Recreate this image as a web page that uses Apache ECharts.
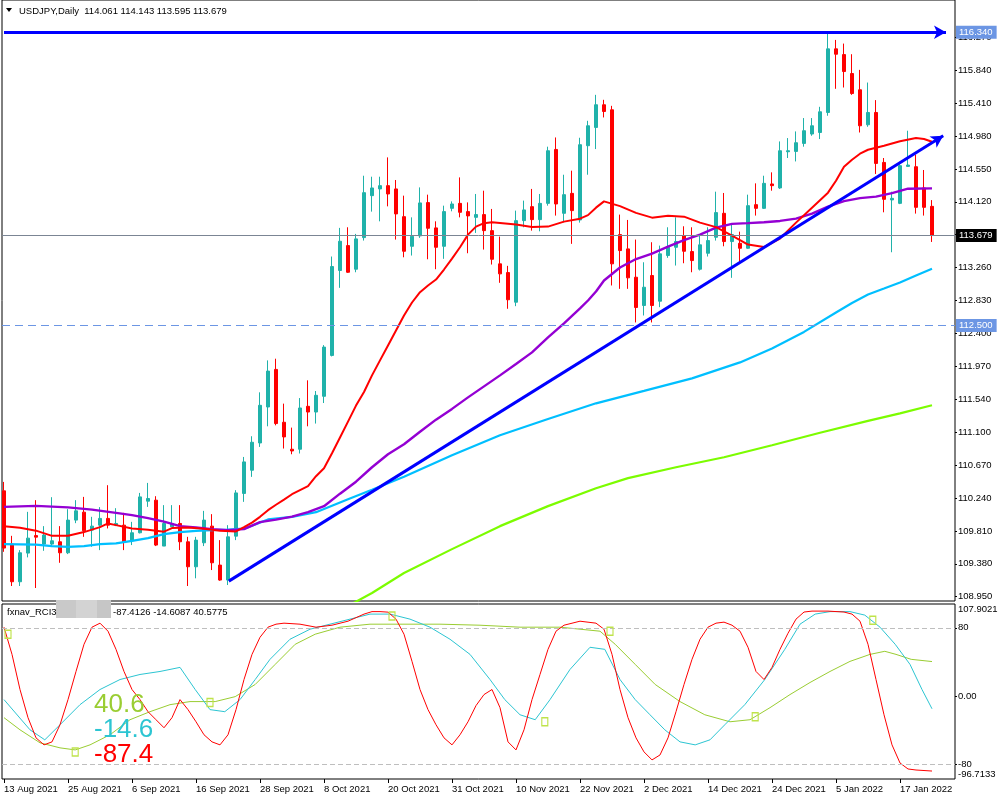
<!DOCTYPE html>
<html><head><meta charset="utf-8">
<script src="https://cdn.jsdelivr.net/npm/echarts@6/dist/echarts.min.js"></script>
<style>html,body{margin:0;padding:0;background:#fff}#c{width:1000px;height:800px}</style>
</head><body><div id="c"></div>
<script>
// ---------------- DATA ----------------
const symbolName = 'USDJPY,Daily';
const dateLabels = ['13 Aug 2021','25 Aug 2021','6 Sep 2021','16 Sep 2021','28 Sep 2021','8 Oct 2021','20 Oct 2021','31 Oct 2021','10 Nov 2021','22 Nov 2021','2 Dec 2021','14 Dec 2021','24 Dec 2021','5 Jan 2022','17 Jan 2022'];
const dateBars = [0,8,16,24,32,40,48,56,64,72,80,88,96,104,112];
const priceTicks = [108.950,109.380,109.810,110.240,110.670,111.100,111.540,111.970,112.400,112.830,113.260,113.690,114.120,114.550,114.980,115.410,115.840,116.270];
const rciTicks = [80, 0, -80];
const rciExtremes = [107.9021, -96.7133];
const rciLast = [-87.4126, -14.6087, 40.5775];

const opens = [110.336,109.639,109.146,109.521,109.750,109.639,109.639,109.669,109.525,109.953,110.057,109.822,109.887,109.975,109.887,109.887,109.682,109.787,110.201,110.214,109.613,109.865,109.909,109.669,109.342,109.656,109.874,109.364,109.168,109.743,110.302,110.606,110.963,111.434,111.926,111.234,110.881,110.881,111.443,111.368,111.574,112.109,113.221,113.547,113.238,113.652,114.201,114.289,114.332,114.289,113.926,113.538,113.674,114.110,113.779,113.538,114.035,114.100,113.992,113.917,113.953,113.743,113.308,113.194,112.806,113.874,114.057,113.887,114.100,114.806,113.970,114.231,113.883,114.855,115.094,115.391,115.325,113.691,113.504,113.133,112.763,113.155,112.819,113.417,113.525,113.678,113.469,113.238,113.447,113.656,113.970,113.600,113.577,113.512,114.083,114.035,114.354,114.302,114.776,114.780,114.885,115.008,115.028,115.290,116.123,116.048,115.800,115.587,115.129,115.290,114.636,114.145,114.100,114.584,114.580,114.302,114.061];
const highs = [110.453,109.747,109.560,110.061,110.214,109.874,110.253,109.874,110.096,110.214,110.257,109.996,110.123,110.410,110.109,110.048,109.930,110.309,110.440,110.266,110.149,110.149,110.149,109.734,109.734,110.074,110.031,109.691,109.887,110.345,110.780,111.051,111.626,112.044,112.066,111.478,111.164,111.551,111.783,111.643,112.244,113.404,113.779,113.787,113.700,114.462,114.449,114.449,114.702,114.406,114.201,113.917,114.309,114.214,113.865,114.070,114.126,114.440,114.113,114.223,114.266,114.027,113.665,113.282,114.005,114.136,114.289,114.223,114.842,114.963,114.475,114.528,114.959,115.181,115.521,115.456,115.377,113.953,113.883,113.626,113.329,113.591,113.547,113.787,113.917,113.800,113.787,113.678,113.787,114.253,114.236,113.839,113.730,114.214,114.362,114.462,114.506,114.911,114.955,115.042,115.217,115.217,115.364,116.340,116.240,116.192,116.053,115.848,115.682,115.452,114.694,114.253,114.610,115.051,114.737,114.537,114.143];
const lows = [109.538,109.090,109.090,109.465,109.064,109.551,109.600,109.394,109.508,109.913,109.734,109.604,109.560,109.844,109.874,109.560,109.626,109.779,110.126,109.613,109.613,109.865,109.560,109.090,109.191,109.613,109.299,109.159,109.103,109.691,110.192,110.519,110.911,111.181,111.194,110.890,110.815,110.825,111.181,111.217,111.486,112.096,112.994,113.190,113.198,113.613,113.992,113.865,114.061,113.626,113.394,113.417,113.648,113.368,113.238,113.374,113.996,113.917,113.447,113.713,113.495,113.299,113.060,112.720,112.754,113.787,113.743,113.734,114.070,113.940,113.852,113.570,113.848,114.475,114.811,115.225,113.025,112.981,112.981,112.541,112.632,112.541,112.741,113.387,113.286,113.316,113.198,113.221,113.404,113.613,113.538,113.125,113.329,113.505,113.940,114.027,114.266,114.289,114.694,114.649,114.842,114.985,114.942,115.247,115.600,115.617,115.521,115.028,115.103,114.485,113.983,113.460,114.090,114.580,113.966,113.940,113.595];
const closes = [109.587,109.146,109.525,109.717,109.730,109.757,109.682,109.525,109.953,110.074,109.813,109.874,109.975,109.887,109.909,109.669,109.787,110.257,110.236,109.626,109.909,109.909,109.669,109.342,109.691,109.953,109.394,109.168,109.734,110.309,110.715,110.972,111.456,111.904,111.217,111.042,110.858,111.421,111.368,111.587,112.218,113.273,113.604,113.198,113.635,114.240,114.302,114.332,114.223,113.962,113.473,113.669,114.106,113.774,113.525,113.992,114.092,113.983,113.936,113.953,113.743,113.368,113.177,112.838,113.874,114.014,113.887,114.100,114.789,114.092,114.214,114.005,114.868,115.116,115.391,115.303,113.308,113.482,113.125,112.737,113.002,112.763,113.439,113.525,113.600,113.473,113.351,113.557,113.613,113.979,113.600,113.691,113.512,114.070,114.035,114.362,114.332,114.789,114.789,114.894,115.051,115.116,115.299,116.123,116.053,115.826,115.538,115.116,115.290,114.623,114.153,114.166,114.593,114.602,114.048,114.048,113.679];

const maRed = [[0,109.874],[2,109.853],[4,109.815],[6,109.747],[8,109.747],[10,109.796],[12,109.861],[13,109.909],[14,109.887],[16,109.844],[18,109.826],[20,109.802],[21,109.848],[23,109.857],[25,109.840],[27,109.815],[29,109.805],[30,109.861],[31,109.920],[32,109.996],[33,110.083],[34,110.154],[35,110.221],[36,110.292],[37,110.345],[38,110.397],[39,110.528],[40,110.632],[41,110.828],[42,111.034],[43,111.243],[44,111.452],[45,111.630],[46,111.848],[47,112.044],[48,112.240],[49,112.436],[50,112.632],[51,112.802],[52,112.937],[53,113.024],[54,113.103],[55,113.234],[56,113.377],[57,113.525],[58,113.691],[59,113.796],[60,113.841],[61,113.852],[62,113.844],[64,113.822],[66,113.792],[68,113.796],[70,113.861],[72,113.900],[73,113.946],[74,114.044],[75,114.126],[77,114.064],[79,113.975],[81,113.913],[83,113.939],[85,113.926],[87,113.848],[89,113.789],[91,113.678],[93,113.560],[95,113.528],[97,113.639],[99,113.848],[101,114.044],[103,114.240],[104,114.397],[105,114.580],[106,114.672],[107,114.750],[108,114.802],[110,114.855],[112,114.913],[114,114.955],[115,114.942],[116,114.907]];
const maPurple = [[0,110.126],[4,110.139],[8,110.120],[11,110.090],[14,110.048],[16,110.018],[18,109.979],[20,109.933],[22,109.874],[24,109.857],[26,109.835],[28,109.822],[30,109.835],[32,109.926],[34,109.960],[36,109.998],[38,110.057],[40,110.135],[42,110.299],[44,110.456],[46,110.645],[48,110.815],[50,110.946],[52,111.109],[54,111.268],[56,111.409],[58,111.560],[60,111.704],[62,111.848],[64,111.998],[66,112.149],[68,112.345],[70,112.528],[72,112.724],[73,112.828],[74,112.946],[75,113.090],[77,113.260],[79,113.371],[81,113.443],[83,113.534],[85,113.619],[87,113.691],[89,113.783],[91,113.832],[93,113.841],[95,113.852],[97,113.870],[99,113.900],[101,113.966],[103,114.057],[105,114.129],[107,114.168],[109,114.188],[111,114.234],[113,114.292],[116,114.296]];
const maBlue = [[0,109.639],[4,109.632],[6,109.613],[8,109.603],[10,109.613],[12,109.639],[14,109.648],[16,109.681],[18,109.717],[20,109.770],[22,109.796],[24,109.811],[26,109.822],[28,109.830],[30,109.841],[31,109.881],[33,109.962],[36,109.996],[39,110.057],[41,110.142],[43,110.227],[46,110.351],[50,110.521],[56,110.802],[62,111.064],[68,111.277],[74,111.482],[80,111.645],[86,111.809],[92,112.018],[96,112.201],[100,112.417],[104,112.671],[106,112.796],[108,112.907],[110,112.985],[112,113.064],[114,113.155],[116,113.243]];
const maGreen = [[43,108.828],[46,108.998],[50,109.260],[56,109.573],[62,109.874],[68,110.136],[74,110.371],[78,110.502],[84,110.645],[90,110.776],[96,110.933],[102,111.096],[108,111.253],[112,111.351],[116,111.456]];

const highLevel = 116.340;   // horizontal arrow line
const bidLevel = 113.679;    // current price line
const dashLevel = 112.500;   // dashed level
const trendStart = [28.1, 109.154];
const trendEnd = [117.4, 114.985];
const highStart = 0, highEnd = 117.75;

const rciRed = [[0,80.8],[1,49.0],[2,7.9],[3,-25.0],[4,-48.6],[5,-56.8],[6,-53.3],[7,-33.3],[8,-3.9],[9,29.0],[10,60.8],[11,80.8],[12,85.5],[13,76.1],[14,54.9],[15,29.0],[16,7.9],[17,-3.9],[18,-18.0],[19,-27.4],[20,-36.8],[21,-25.0],[22,-3.9],[23,-15.6],[24,-29.8],[25,-45.0],[26,-53.3],[27,-56.8],[28,-45.0],[29,-15.6],[30,19.6],[31,49.0],[32,69.0],[33,80.8],[34,84.3],[35,85.5],[37,84.3],[39,80.8],[41,83.1],[43,87.8],[45,96.1],[46,99.0],[47,99.0],[48,98.4],[49,90.2],[50,72.6],[51,40.8],[52,7.9],[53,-15.6],[54,-33.3],[55,-48.6],[56,-56.8],[57,-45.0],[58,-29.8],[59,-10.9],[60,2.0],[61,7.9],[62,-13.3],[63,-53.3],[64,-62.7],[65,-39.2],[66,-3.9],[67,25.5],[68,54.9],[69,76.1],[70,83.1],[72,87.8],[74,85.5],[75,78.4],[76,49.0],[77,7.9],[78,-25.0],[79,-48.6],[80,-65.0],[81,-74.4],[82,-68.6],[83,-48.6],[84,-18.0],[85,13.8],[86,43.2],[87,66.7],[88,80.8],[89,85.5],[90,86.7],[91,83.1],[92,76.1],[93,57.3],[94,29.0],[95,19.6],[96,33.8],[97,54.9],[98,73.7],[99,90.2],[100,98.5],[101,99.6],[103,99.6],[105,98.5],[106,96.1],[107,87.8],[108,60.8],[109,19.6],[110,-21.6],[111,-56.8],[112,-78.0],[113,-85.0],[114,-86.2],[116,-87.4]];
const rciCyan = [[0,-3.9],[3.25,-39.2],[5.1,-50.9],[7,-33.3],[9.5,-9.8],[12,7.9],[14.5,19.6],[17,25.5],[19.5,29.0],[22,33.8],[23.9,7.9],[25.75,-15.6],[27.6,-18.0],[29.5,-3.9],[31.4,19.6],[33.25,43.2],[35.75,66.7],[38.25,78.4],[40.75,84.3],[43.25,90.2],[45.75,96.1],[48.25,96.1],[50.75,90.2],[53.25,80.8],[55.75,66.7],[58.25,49.0],[60.75,19.6],[62.6,-3.9],[64.5,-21.6],[66.4,-27.4],[68.25,-3.9],[70.75,31.4],[73.25,57.3],[75.1,54.9],[77,19.6],[78.9,-3.9],[80.75,-21.6],[82.6,-39.2],[84.5,-53.3],[86.4,-56.8],[88.25,-50.9],[90.1,-33.3],[92.6,-9.8],[95.1,19.6],[97.6,54.9],[99.5,84.3],[101.4,96.1],[103.25,99.0],[105.75,99.0],[107.6,94.9],[109.5,80.8],[111.4,60.8],[113.25,37.3],[114.75,7.9],[116,-14.6]];
const rciGreen = [[0,-25.0],[2,-39.2],[4.5,-54.4],[7,-60.3],[8.9,-62.7],[10.75,-56.8],[13.25,-45.0],[15.75,-27.4],[18.25,-18.0],[20.75,-9.8],[23.25,-6.2],[26.4,-6.2],[28.9,-0.4],[31.4,13.8],[33.9,37.3],[36.4,60.8],[38.9,72.6],[42,80.8],[45.75,84.3],[49.5,84.3],[54.5,84.3],[59.5,83.1],[64.5,80.8],[69.5,80.8],[74.5,76.1],[76.4,60.8],[78.9,37.3],[81.4,13.8],[84.5,-6.2],[87.6,-21.6],[90.75,-29.8],[93.25,-27.4],[95.75,-13.3],[98.25,2.0],[100.75,16.1],[103.25,29.0],[105.75,40.8],[108.25,49.0],[110.1,52.6],[111.5,49.0],[113.4,43.2],[116,40.6]];
const rciMarks = [[0.5,72.6],[8.9,-65.0],[25.75,-7.4],[48.5,93.8],[67.6,-29.8],[75.75,76.0],[93.9,-23.9],[108.6,89.0]];

// ---------------- CHART ----------------
const FONT = "'Liberation Sans', Arial, sans-serif";
const BULL = '#20B2AA', BEAR = '#FF0000';
const BOXBLUE = '#6C96E4';
const xMin = -0.25, xMax = 118.875;
const priceMin = 108.8938, priceMax = 116.7627;

const candleData = opens.map((o, i) => [i, o, closes[i], lows[i], highs[i]]);
const last = opens.length - 1;

const chart = echarts.init(document.getElementById('c'), null, {width: 1000, height: 800});

function boxLabel(text, bg) {
  return {show: true, position: 'end', formatter: text, color: '#fff', backgroundColor: bg,
          padding: [2, 4, 1, 3], distance: 1, fontSize: 9.5, fontFamily: FONT};
}

const option = {
  animation: false,
  backgroundColor: '#ffffff',
  textStyle: {fontFamily: FONT},
  grid: [
    {left: 2, right: 45, top: -1, height: 602, show: true, borderColor: '#000', borderWidth: 1, backgroundColor: 'transparent'},
    {left: 2, right: 45, top: 604, height: 175, show: true, borderColor: '#000', borderWidth: 1, backgroundColor: 'transparent'}
  ],
  xAxis: [
    {type: 'value', gridIndex: 0, min: xMin, max: xMax, show: false, splitLine: {show: false}, axisLine: {onZero: false}},
    {type: 'value', gridIndex: 1, min: xMin, max: xMax, splitLine: {show: false}, position: 'bottom',
     axisLine: {show: false, onZero: false},
     axisTick: {show: true, customValues: dateBars, length: 4, lineStyle: {color: '#000'}},
     axisLabel: {customValues: dateBars, align: 'left', margin: 5, fontSize: 9.5, color: '#000',
                 formatter: v => dateLabels[dateBars.indexOf(Math.round(v))] || ''}}
  ],
  yAxis: [
    {type: 'value', gridIndex: 0, position: 'right', min: priceMin, max: priceMax, splitLine: {show: false},
     axisLine: {show: false, onZero: false},
     axisTick: {show: true, customValues: priceTicks, length: 2, lineStyle: {color: '#000'}},
     axisLabel: {customValues: priceTicks, margin: 3, fontSize: 9.5, color: '#000', formatter: v => v.toFixed(3)}},
    {type: 'value', gridIndex: 1, position: 'right', min: rciExtremes[1], max: rciExtremes[0], splitLine: {show: false},
     axisLine: {show: false, onZero: false},
     axisTick: {show: true, customValues: rciTicks, length: 2, lineStyle: {color: '#000'}},
     axisLabel: {customValues: rciTicks, margin: 3, fontSize: 9.5, color: '#000', formatter: v => v === 0 ? '0.00' : String(v)}}
  ],
  series: [
    {type: 'candlestick', xAxisIndex: 0, yAxisIndex: 0, barWidth: 4, data: candleData,
     itemStyle: {color: BULL, color0: BEAR, borderColor: BULL, borderColor0: BEAR, borderWidth: 1},
     markLine: {silent: true, symbol: 'none', animation: false, data: [
       {yAxis: dashLevel, lineStyle: {color: BOXBLUE, type: [8, 5], width: 1}, label: boxLabel(dashLevel.toFixed(3), BOXBLUE)},
       {yAxis: bidLevel, lineStyle: {color: '#7B8594', type: 'solid', width: 1}, label: boxLabel(bidLevel.toFixed(3), '#000')},
       {yAxis: highLevel, lineStyle: {color: 'rgba(0,0,0,0)', width: 0}, label: boxLabel(highLevel.toFixed(3), BOXBLUE)}
     ]}},
    {type: 'line', name: 'maBlue', xAxisIndex: 0, yAxisIndex: 0, data: maBlue, showSymbol: false, symbol: 'none', lineStyle: {color: '#00BFFF', width: 2.2}, z: 3},
    {type: 'line', name: 'maGreen', xAxisIndex: 0, yAxisIndex: 0, data: maGreen, showSymbol: false, symbol: 'none', lineStyle: {color: '#7CFC00', width: 2.2}, z: 3},
    {type: 'line', name: 'maPurple', xAxisIndex: 0, yAxisIndex: 0, data: maPurple, showSymbol: false, symbol: 'none', lineStyle: {color: '#9400D3', width: 2.4}, z: 3},
    {type: 'line', name: 'maRed', xAxisIndex: 0, yAxisIndex: 0, data: maRed, showSymbol: false, symbol: 'none', lineStyle: {color: '#FF0000', width: 2}, z: 4},
    {type: 'line', name: 'arrows', xAxisIndex: 0, yAxisIndex: 0, data: [], z: 5,
     markLine: {silent: true, animation: false, symbol: ['none', 'arrow'], symbolSize: [10, 12], label: {show: false},
       lineStyle: {color: '#0000FF', width: 3, type: 'solid'},
       data: [
         [{coord: [highStart, highLevel]}, {coord: [highEnd, highLevel]}],
         [{coord: trendStart}, {coord: trendEnd}]
       ]}},
    {type: 'line', name: 'rciGreen', xAxisIndex: 1, yAxisIndex: 1, data: rciGreen, showSymbol: false, symbol: 'none', lineStyle: {color: '#9ACD32', width: 1},
     markLine: {silent: true, symbol: 'none', animation: false, label: {show: false},
       lineStyle: {color: '#BEBEBE', type: [5, 3], width: 1},
       data: [{yAxis: rciTicks[0]}, {yAxis: rciTicks[2]}]}},
    {type: 'line', name: 'rciCyan', xAxisIndex: 1, yAxisIndex: 1, data: rciCyan, showSymbol: false, symbol: 'none', lineStyle: {color: '#2CC5D2', width: 1}},
    {type: 'line', name: 'rciRed', xAxisIndex: 1, yAxisIndex: 1, data: rciRed, showSymbol: false, symbol: 'none', lineStyle: {color: '#FF0000', width: 1}},
    {type: 'scatter', name: 'rciMarks', xAxisIndex: 1, yAxisIndex: 1, data: rciMarks, symbol: 'rect', symbolSize: [6, 8],
     itemStyle: {color: 'rgba(255,255,255,0)', borderColor: '#BFE34A', borderWidth: 1.3, opacity: 1}, z: 6}
  ]
};
chart.setOption(option);

const yTop = chart.convertToPixel({yAxisIndex: 1}, rciExtremes[0]);
const yBot = chart.convertToPixel({yAxisIndex: 1}, rciExtremes[1]);
const hdr = [opens[last], highs[last], lows[last], closes[last]].map(v => v.toFixed(3)).join(' ');
const bigVals = [rciLast[2], rciLast[1], rciLast[0]];
const bigColors = ['#9ACD32', '#2CC5D2', '#FF0000'];

chart.setOption({graphic: [
  {type: 'polygon', shape: {points: [[6, 8], [12, 8], [9, 12]]}, style: {fill: '#000'}},
  {type: 'text', x: 19, y: 11, style: {text: symbolName + '  ' + hdr, font: '9.5px ' + FONT, fill: '#000', verticalAlign: 'middle'}},
  {type: 'rect', shape: {x: 56, y: 600, width: 20, height: 18}, style: {fill: '#C9C9C9'}, z: 10},
  {type: 'rect', shape: {x: 76, y: 600, width: 21, height: 18}, style: {fill: '#D3D3D3'}, z: 10},
  {type: 'rect', shape: {x: 97, y: 600, width: 14, height: 18}, style: {fill: '#C6C6C6'}, z: 10},
  {type: 'text', x: 7, y: 612, style: {text: 'fxnav_RCI3', font: '9.5px ' + FONT, fill: '#000', verticalAlign: 'middle'}, z: 10},
  {type: 'text', x: 113, y: 612, style: {text: rciLast.map(v => v.toFixed(4)).join(' '), font: '9.5px ' + FONT, fill: '#000', verticalAlign: 'middle'}, z: 10},
  {type: 'text', x: 958, y: yTop, style: {text: String(rciExtremes[0]), font: '9.5px ' + FONT, fill: '#000', verticalAlign: 'top'}},
  {type: 'text', x: 958, y: yBot, style: {text: String(rciExtremes[1]), font: '9.5px ' + FONT, fill: '#000', verticalAlign: 'bottom'}},
  ...bigVals.map((v, k) => ({type: 'text', x: 94, y: 705 + 25 * k, z: 10,
     style: {text: v.toFixed(1), font: '26px ' + FONT, fill: bigColors[k], verticalAlign: 'middle'}}))
]});
</script>
</body></html>
